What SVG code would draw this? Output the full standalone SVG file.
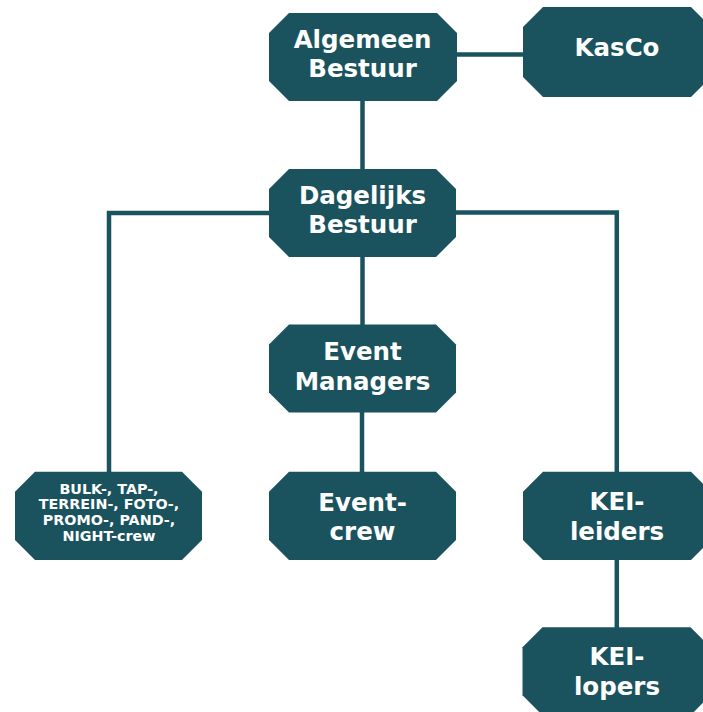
<svg xmlns="http://www.w3.org/2000/svg" width="703" height="712" viewBox="0 0 703 712">
<style>
.n{fill:#1a535e}
.t{font-family:"DejaVu Sans","Verdana",sans-serif;font-weight:bold;fill:#ffffff;text-anchor:middle;font-size:24.5px}
.s{font-size:14.3px}
.c{fill:none;stroke:#1a535e;stroke-width:4.5}
</style>
<rect width="703" height="712" fill="#ffffff"/>
<g id="connectors">
<path class="c" d="M457 54.5H523"/>
<path class="c" d="M362.5 100V170"/>
<path class="c" d="M270 213H109V473"/>
<path class="c" d="M455 212.5H616.8V473"/>
<path class="c" d="M362.5 256V325"/>
<path class="c" d="M362 412V473"/>
<path class="c" d="M616.8 559V628"/>
</g>
<g id="algemeen-bestuur">
<polygon class="n" points="289,13 437,13 457,33 457,81 437,101 289,101 269,81 269,33"/>
<text class="t" x="362.5" y="48">Algemeen</text>
<text class="t" x="362.5" y="77">Bestuur</text>
</g>
<g id="kasco">
<polygon class="n" points="543,7 691,7 711,27 711,77 691,97 543,97 523,77 523,27"/>
<text class="t" x="617" y="56">KasCo</text>
</g>
<g id="dagelijks-bestuur">
<polygon class="n" points="289,169 436,169 456,189 456,237 436,257 289,257 269,237 269,189"/>
<text class="t" x="362.5" y="203.5">Dagelijks</text>
<text class="t" x="362.5" y="233">Bestuur</text>
</g>
<g id="event-managers">
<polygon class="n" points="289,324.5 436,324.5 456,344.5 456,392.5 436,412.5 289,412.5 269,392.5 269,344.5"/>
<text class="t" x="362.5" y="359.5">Event</text>
<text class="t" x="362.5" y="389.5">Managers</text>
</g>
<g id="event-crew">
<polygon class="n" points="289,471.7 436,471.7 456,491.7 456,540 436,560 289,560 269,540 269,491.7"/>
<text class="t" x="362.5" y="510.5">Event-</text>
<text class="t" x="362.5" y="540">crew</text>
</g>
<g id="crews">
<polygon class="n" points="35,471.7 182,471.7 202,491.7 202,540 182,560 35,560 15,540 15,491.7"/>
<text class="t s" x="109" y="493.5">BULK-, TAP-,</text>
<text class="t s" x="109" y="509.3">TERREIN-, FOTO-,</text>
<text class="t s" x="109" y="525">PROMO-, PAND-,</text>
<text class="t s" x="109" y="541">NIGHT-crew</text>
</g>
<g id="kei-leiders">
<polygon class="n" points="543,471.7 691,471.7 711,491.7 711,540 691,560 543,560 523,540 523,491.7"/>
<text class="t" x="617" y="510">KEI-</text>
<text class="t" x="617" y="540">leiders</text>
</g>
<g id="kei-lopers">
<polygon class="n" points="542.5,627.3 690.5,627.3 710.5,647.3 710.5,695.3 690.5,715.3 542.5,715.3 522.5,695.3 522.5,647.3"/>
<text class="t" x="617" y="665">KEI-</text>
<text class="t" x="617" y="695">lopers</text>
</g>
</svg>
